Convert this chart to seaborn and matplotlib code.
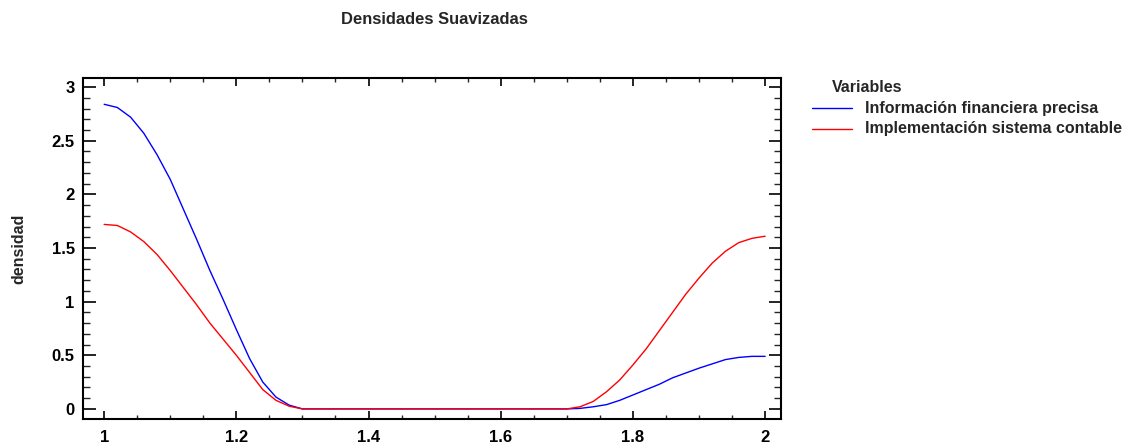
import numpy as np
import pandas as pd
import matplotlib
matplotlib.use("Agg")
import matplotlib.pyplot as plt
import seaborn as sns
from matplotlib.ticker import MultipleLocator
from matplotlib.lines import Line2D

sns.set_theme(style="white")
plt.rcParams['font.family'] = ['Liberation Sans', 'DejaVu Sans']
plt.rcParams['font.weight'] = 'bold'

title = "Densidades Suavizadas"
ylabel = "densidad"
legend_title = "Variables"
series_names = ["Información financiera precisa", "Implementación sistema contable"]

x_vals = [1.00, 1.02, 1.04, 1.06, 1.08, 1.10, 1.12, 1.14, 1.16, 1.18, 1.20,
          1.22, 1.24, 1.26, 1.28, 1.30, 1.40, 1.50, 1.60, 1.70, 1.72, 1.74,
          1.76, 1.78, 1.80, 1.82, 1.84, 1.86, 1.88, 1.90, 1.92, 1.94, 1.96,
          1.98, 2.00]
blue_vals = [2.84, 2.81, 2.72, 2.57, 2.37, 2.14, 1.86, 1.58, 1.29, 1.02, 0.74,
             0.47, 0.25, 0.11, 0.035, 0.0, 0.0, 0.0, 0.0, 0.0, 0.005, 0.02,
             0.04, 0.08, 0.13, 0.18, 0.23, 0.29, 0.335, 0.38, 0.42, 0.46, 0.48,
             0.49, 0.49]
red_vals = [1.72, 1.71, 1.65, 1.56, 1.44, 1.29, 1.13, 0.97, 0.80, 0.65, 0.50,
            0.34, 0.18, 0.08, 0.025, 0.0, 0.0, 0.0, 0.0, 0.0, 0.02, 0.07,
            0.16, 0.27, 0.41, 0.56, 0.73, 0.90, 1.07, 1.22, 1.36, 1.47, 1.55,
            1.59, 1.61]

colors = ["#0000FF", "#FF0000"]

df = pd.DataFrame({
    "x": x_vals * 2,
    "y": blue_vals + red_vals,
    "serie": [series_names[0]] * len(x_vals) + [series_names[1]] * len(x_vals),
})

fig = plt.figure(figsize=(11.37, 4.45), dpi=100)
W, H = 1137, 445
ax = fig.add_axes([83 / W, 1 - 419 / H, (781 - 83) / W, (419 - 78) / H])

sns.lineplot(data=df, x="x", y="y", hue="serie", palette=colors, ax=ax,
             linewidth=1.0, legend=False)

ax.set_xlim(0.968, 2.024)
ax.set_ylim(-0.094, 3.085)
ax.xaxis.set_major_locator(MultipleLocator(0.2))
ax.xaxis.set_minor_locator(MultipleLocator(0.05))
ax.yaxis.set_major_locator(MultipleLocator(0.5))
ax.yaxis.set_minor_locator(MultipleLocator(0.1))
ax.set_xticks([1.0, 1.2, 1.4, 1.6, 1.8, 2.0])
ax.set_xticklabels(["1", "1.2", "1.4", "1.6", "1.8", "2"])
ax.set_yticks([0, 0.5, 1, 1.5, 2, 2.5, 3])
ax.set_yticklabels(["0", "0.5", "1", "1.5", "2", "2.5", "3"])

for s in ax.spines.values():
    s.set_visible(True)
    s.set_linewidth(1.5)
    s.set_color("black")

ax.tick_params(axis="x", which="major", direction="in", length=6, width=1.2,
               top=True, bottom=True, labelsize=12, pad=8, colors="black")
ax.tick_params(axis="x", which="minor", direction="in", length=3, width=1.0,
               top=True, bottom=True)
ax.tick_params(axis="y", which="major", direction="in", length=9, width=1.2,
               left=True, right=True, labelsize=12, pad=6, colors="black")
ax.tick_params(axis="y", which="minor", direction="in", length=5, width=1.0,
               left=True, right=True)
for lab in ax.get_xticklabels() + ax.get_yticklabels():
    lab.set_fontweight("bold")

ax.set_xlabel("")
ax.set_ylabel(ylabel, fontsize=11.5, fontweight="bold")
ax.yaxis.set_label_coords(-0.081, 0.5)

fig.text(434 / W, 1 - 19 / H, title, ha="center", va="center",
         fontsize=11.9, fontweight="bold")

fig.text(832 / W, 1 - 88 / H, legend_title, ha="left", va="center",
         fontsize=11.5, fontweight="bold")
for i, (name, c) in enumerate(zip(series_names, colors)):
    yy = 1 - (108 + i * 21) / H
    fig.add_artist(Line2D([812 / W, 852 / W], [yy, yy], color=c,
                          linewidth=1.0, transform=fig.transFigure))
    fig.text(865 / W, yy, name, ha="left", va="center",
             fontsize=11.5, fontweight="bold")

fig.savefig("out.png", dpi=100)
